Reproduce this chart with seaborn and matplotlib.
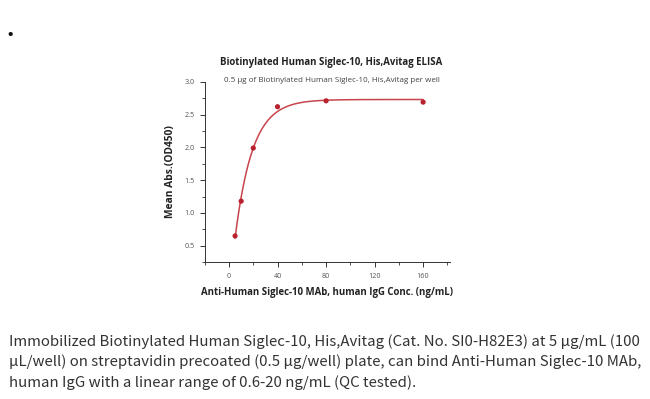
import numpy as np
import pandas as pd
import matplotlib
matplotlib.use("Agg")
import matplotlib.pyplot as plt
import seaborn as sns
from matplotlib.ticker import MultipleLocator

# data
conc = [5, 10, 20, 40, 80, 160]
od450 = [0.65, 1.18, 1.99, 2.62, 2.71, 2.69]

title = "Biotinylated Human Siglec-10, His,Avitag ELISA"
subtitle = "0.5 \u00b5g of Biotinylated Human Siglec-10, His,Avitag per well"
xlabel = "Anti-Human Siglec-10 MAb, human IgG Conc. (ng/mL)"
ylabel = "Mean Abs.(OD450)"
caption = ("Immobilized Biotinylated Human Siglec-10, His,Avitag (Cat. No. SI0-H82E3) at 5 \u00b5g/mL (100\n"
           "\u00b5L/well) on streptavidin precoated (0.5 \u00b5g/well) plate, can bind Anti-Human Siglec-10 MAb,\n"
           "human IgG with a linear range of 0.6-20 ng/mL (QC tested).")

sns.set_theme(style="ticks")
plt.rcParams['font.family'] = ['Open Sans', 'DejaVu Sans']

df = pd.DataFrame({"conc": conc, "od": od450})

# saturation fit y = A - B*exp(-k x): grid over k, linear least squares for A, B
x = np.array(conc, dtype=float)
y = np.array(od450)
best = None
for k in np.linspace(0.005, 0.3, 600):
    M = np.column_stack([np.ones_like(x), -np.exp(-k * x)])
    coef, *_ = np.linalg.lstsq(M, y, rcond=None)
    err = np.sum((M @ coef - y) ** 2)
    if best is None or err < best[0]:
        best = (err, k, coef)
_, k, (A, B) = best
xs = np.linspace(x.min(), x.max(), 300)
fit = pd.DataFrame({"conc": xs, "od": A - B * np.exp(-k * xs)})

fig = plt.figure(figsize=(6.5, 3.99), dpi=100)
ax = fig.add_axes([0.315, 0.343, 0.377, 0.452])

red = "#c8444c"
sns.lineplot(data=fit, x="conc", y="od", ax=ax, color=red, linewidth=1.1)
sns.scatterplot(data=df, x="conc", y="od", ax=ax, color="#b8222e", s=14, edgecolor="none", zorder=3)

ax.set_xlim(-20, 182)
ax.set_ylim(0.25, 3.0)
ax.set_xticks([0, 40, 80, 120, 160])
ax.set_yticks([0.5, 1.0, 1.5, 2.0, 2.5, 3.0])
ax.xaxis.set_minor_locator(MultipleLocator(20))
ax.yaxis.set_minor_locator(MultipleLocator(0.25))
ax.tick_params(which="major", length=3.5, width=0.7, labelsize=5.2, labelcolor="#555555", color="#333333", pad=4)
ax.tick_params(which="minor", length=2, width=0.6, color="#333333")
for s in ["top", "right"]:
    ax.spines[s].set_visible(False)
for s in ["left", "bottom"]:
    ax.spines[s].set_linewidth(0.7)
    ax.spines[s].set_color("#333333")

ax.set_xlabel(xlabel, fontsize=6.9, fontweight="bold", color="#222222", labelpad=5)
ax.set_ylabel(ylabel, fontsize=7.4, fontweight="bold", color="#222222", labelpad=6)

fig.text(0.51, 0.843, title, ha="center", va="center", fontsize=6.9, fontweight="bold", color="#222222")
fig.text(0.511, 0.798, subtitle, ha="center", va="center", fontsize=5.8, color="#444444")

fig.text(0.01, 0.91, "\u2022", fontsize=14, color="#111111", ha="left", va="center")

fig.text(0.014, 0.093, caption, ha="left", va="center", fontsize=10.8, color="#333333",
         linespacing=1.5, family=['Noto Sans CJK SC', 'DejaVu Sans'])

fig.savefig("out.png", dpi=100)
